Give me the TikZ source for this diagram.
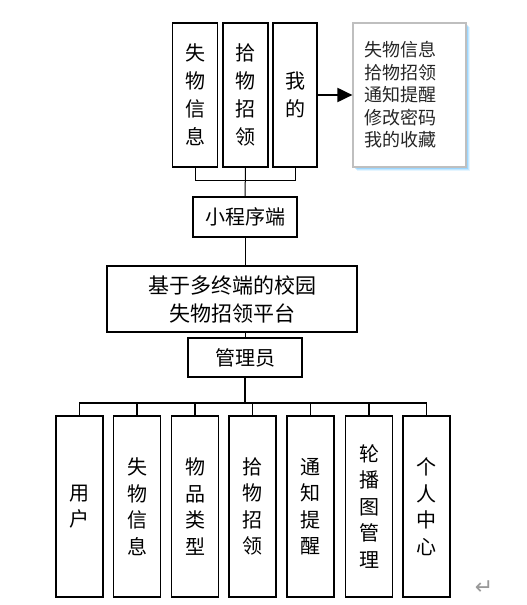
\documentclass[tikz,border=0pt]{standalone}
\usepackage{fontspec}
\setmainfont{Noto Sans CJK SC}
\newfontfamily\symfont{DejaVu Sans}
\usetikzlibrary{arrows.meta}
\tikzset{
  box/.style={draw=black, line width=1.3pt, rectangle, inner sep=0pt, align=center},
  vbox/.style={box, minimum width=45pt, minimum height=144pt, font=\fontsize{20}{28}\selectfont},
  lbox/.style={box, minimum width=47pt, minimum height=181pt, font=\fontsize{20}{26.5}\selectfont},
  conn/.style={line width=1pt},
  tconn/.style={line width=1.6pt},
}
\begin{document}
\begin{tikzpicture}[x=1pt,y=-1pt]
\useasboundingbox (0,0) rectangle (527,605);
% top boxes
\node[vbox] (s1) at (195,95) {失\\物\\信\\息};
\node[vbox] (s2) at (245.5,95) {拾\\物\\招\\领};
\node[vbox,minimum width=44pt] (s3) at (295,95) {我\\的};
% shadow of right box
\foreach \o/\op in {4/0.10,3/0.15,2/0.2}{
  \fill[blue!40!cyan, opacity=\op] (353+\o,23+\o) rectangle (466+\o,167+\o);
}
\node[rectangle, draw=black!25, fill=white, line width=1.2pt, minimum height=144pt, text width=91pt, inner xsep=11pt, align=left, font=\fontsize{18}{22.5}\selectfont, text=black!85] (menu) at (409.5,95) {失物信息\\拾物招领\\通知提醒\\修改密码\\我的收藏};
\draw[line width=2pt, -{Triangle[length=15pt,width=14pt]}] (s3.east) -- (menu.west);
% small program
\node[box, minimum width=104pt, minimum height=40pt, font=\fontsize{20}{24}\selectfont] (app) at (245,217) {小程序端};
\draw[conn] (s1.south) -- ++(0,13) -| (s3.south);
\draw[conn] (s2.south) -- (app.north);
% main
\node[box, minimum width=250pt, minimum height=66pt, font=\fontsize{21}{28}\selectfont] (main) at (232,299) {基于多终端的校园\\失物招领平台};
\draw[conn] (app.south) -- (app.south |- main.north);
\node[box, minimum width=114pt, minimum height=39pt, font=\fontsize{20}{24}\selectfont] (admin) at (245,357.5) {管理员};
\draw[conn] (admin.north |- main.south) -- (admin.north);
% bottom boxes
\node[lbox] (b1) at (79.5,506.5) {用\\户};
\node[lbox] (b2) at (137,506.5) {失\\物\\信\\息};
\node[lbox] (b3) at (195,506.5) {物\\品\\类\\型};
\node[lbox] (b4) at (252.5,506.5) {拾\\物\\招\\领};
\node[lbox] (b5) at (310.5,506.5) {通\\知\\提\\醒};
\node[lbox] (b6) at (369,506.5) {轮\\播\\图\\管\\理};
\node[lbox] (b7) at (426.5,506.5) {个\\人\\中\\心};
\coordinate (bus) at (246,403);
\draw[tconn] (admin.south) -- (admin.south |- bus);
\draw[tconn] (b1.north) |- (bus) -| (b7.north);
\foreach \b in {b2,b3,b4,b5,b6}{
  \draw[tconn] (\b.north) -- (\b.north |- bus);
}
% paragraph mark
\node[text=black!40, font=\symfont\fontsize{22}{22}\selectfont] (pm) at (484,588) {↵};
\end{tikzpicture}
\end{document}
